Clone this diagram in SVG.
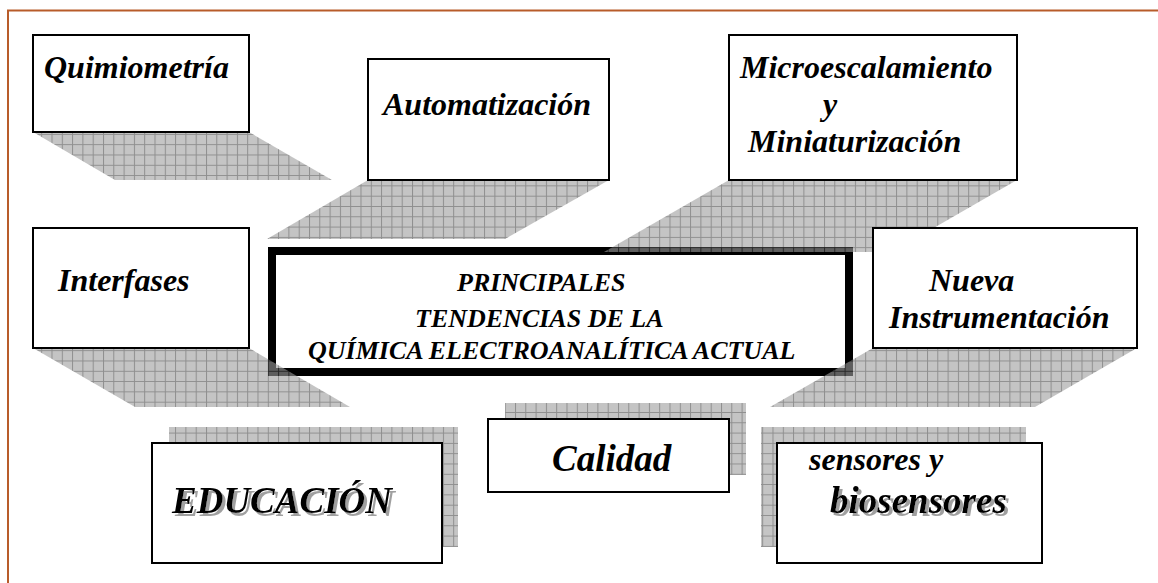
<svg xmlns="http://www.w3.org/2000/svg" width="1158" height="583" viewBox="0 0 1158 583">
<style>
.box{fill:#fff;stroke:#000;stroke-width:2}
.t{font-family:"Liberation Serif","Times New Roman",serif;font-weight:bold;font-style:italic;fill:#000}
.t32{font-size:32px}
.t37{font-size:37px}
.t26{font-size:26px}
.ds{filter:url(#tshadow)}
.shade{fill:url(#hatch)}
</style>
<defs>
<pattern id="hatch" patternUnits="userSpaceOnUse" width="10.3" height="10.3">
<rect width="10.3" height="10.3" fill="#9e9e9e"/>
<path d="M0 0.5H10.3M0.5 0V10.3" stroke="#444" stroke-width="1"/>
</pattern>
<filter id="tshadow" x="-10%" y="-30%" width="130%" height="160%">
<feOffset in="SourceAlpha" dx="2.5" dy="2.5" result="off"/>
<feFlood flood-color="#a0a0a0"/>
<feComposite in2="off" operator="in" result="shadow"/>
<feMerge><feMergeNode in="shadow"/><feMergeNode in="SourceGraphic"/></feMerge>
</filter>
</defs>
<g id="frame">
<path d="M8 583V10.5H1158" fill="none" stroke="#b85c2a" stroke-width="2"/>
</g>
<g id="central">
<rect x="272" y="251" width="577" height="121" fill="#fff" stroke="#000" stroke-width="8"/>
<text class="t t26" x="457" y="291">PRINCIPALES</text>
<text class="t t26" x="415" y="327">TENDENCIAS DE LA</text>
<text class="t t26" x="308" y="359">QUÍMICA ELECTROANALÍTICA ACTUAL</text>
</g>
<g id="connectors" opacity="0.6">
<polygon class="shade" points="33,132 249,132 332,180 115,180"/>
<polygon class="shade" points="368,180 609,180 505,239 267,239"/>
<polygon class="shade" points="729,180 1017,180 892,252 604,252"/>
<polygon class="shade" points="33,348 249,348 350,407 135,407"/>
<polygon class="shade" points="873,348 1137,348 1035,407 770,407"/>
<rect class="shade" x="169" y="427" width="289" height="120"/>
<rect class="shade" x="505" y="403" width="241" height="72"/>
<rect class="shade" x="761" y="427" width="265" height="120"/>
</g>
<g id="quimiometria">
<rect class="box" x="33" y="35" width="216" height="97"/>
<text class="t t32" x="44" y="78">Quimiometría</text>
</g>
<g id="automatizacion">
<rect class="box" x="368" y="59" width="241" height="121"/>
<text class="t t32" x="383" y="115">Automatización</text>
</g>
<g id="microescalamiento">
<rect class="box" x="729" y="35" width="288" height="145"/>
<text class="t t32" x="740" y="78">Microescalamiento</text>
<text class="t t32" x="823" y="115">y</text>
<text class="t t32" x="748" y="152">Miniaturización</text>
</g>
<g id="interfases">
<rect class="box" x="33" y="228" width="216" height="120"/>
<text class="t t32" x="58" y="291">Interfases</text>
</g>
<g id="nueva">
<rect class="box" x="873" y="228" width="264" height="120"/>
<text class="t t32" x="929" y="291">Nueva</text>
<text class="t t32" x="889" y="328">Instrumentación</text>
</g>
<g id="educacion">
<rect class="box" x="152" y="443" width="290" height="120"/>
<text class="t t37 ds" x="172" y="513">EDUCACIÓN</text>
</g>
<g id="calidad">
<rect class="box" x="488" y="419" width="241" height="73"/>
<text class="t t37" x="552" y="471">Calidad</text>
</g>
<g id="sensores">
<rect class="box" x="777" y="443" width="265" height="120"/>
<text class="t t32" x="809" y="470">sensores y</text>
<text class="t t37 ds" x="830" y="513">biosensores</text>
</g>
</svg>
